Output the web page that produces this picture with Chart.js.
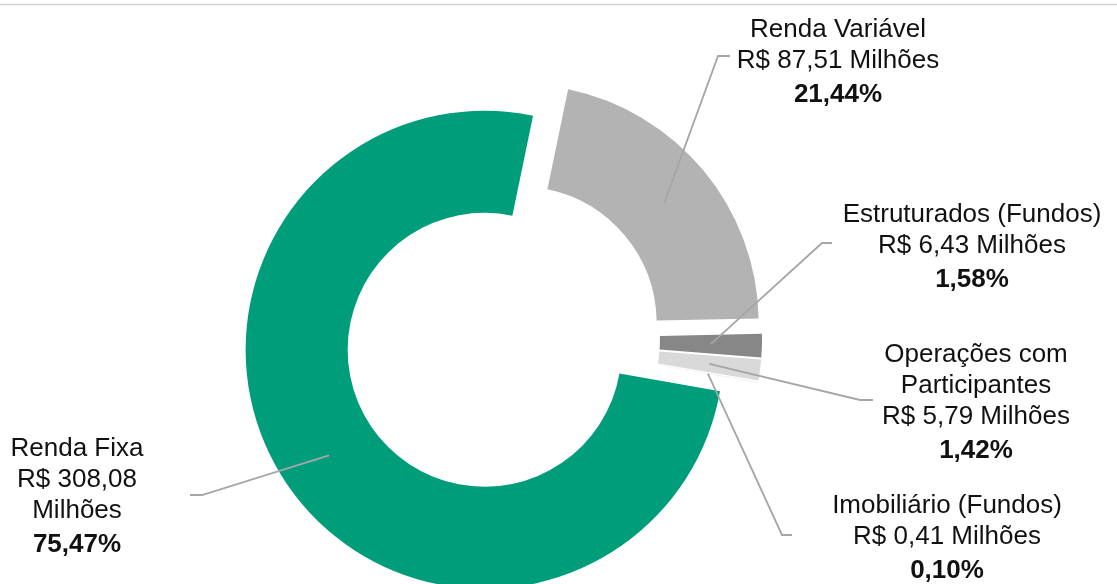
<!DOCTYPE html>
<html lang="pt-BR">
<head>
<meta charset="utf-8">
<title>Alocação por segmento</title>
<script src="https://cdn.jsdelivr.net/npm/chart.js@4.4.1/dist/chart.umd.min.js"></script>
<style>
    html, body { margin: 0; padding: 0; background: #ffffff; }
    #wrap { position: relative; width: 1117px; height: 584px; }
</style>
</head>
<body>
<div id="wrap"><canvas id="segmentoChart"></canvas></div>
<script>
// Dados do gráfico
const categorias = ['Renda Fixa', 'Renda Variável', 'Estruturados (Fundos)', 'Operações com Participantes', 'Imobiliário (Fundos)'];
const valoresMilhoes = [308.08, 87.51, 6.43, 5.79, 0.41];
const percentuais = [75.47, 21.44, 1.58, 1.42, 0.10];

// Cores das fatias
const cores = ['#009D7B', '#B3B3B3', '#878787', '#D9D9D9', '#F4F4F4'];

// Deslocamento (explosão) de cada fatia em px
const explosao = [21, 23, 21, 21, 21];

// Posição dos rótulos: x central, primeira linha de base, largura máx, cotovelo da linha guia e fim
const rotulosLayout = [
    { cx: 77,  y: 456, maxW: 150, cotovelo: [202, 495], fimX: 190 },
    { cx: 838, y: 37,  maxW: 320, cotovelo: [718, 56],  fimX: 730 },
    { cx: 972, y: 222, maxW: 320, cotovelo: [822, 243], fimX: 832 },
    { cx: 976, y: 362, maxW: 200, cotovelo: [860, 400], fimX: 873 },
    { cx: 947, y: 513, maxW: 320, cotovelo: [782, 535], fimX: 792 }
];

const fonte = '"Liberation Sans", Arial, sans-serif';
const corTexto = '#111111';
const corGuia = '#A6A6A6';

const fmt = v => v.toFixed(2).replace('.', ',');

function quebrarTexto(ctx, texto, maxW) {
    const palavras = texto.split(' ');
    const linhas = [];
    let atual = '';
    palavras.forEach(p => {
        const teste = atual ? atual + ' ' + p : p;
        if (ctx.measureText(teste).width > maxW && atual) {
            linhas.push(atual);
            atual = p;
        } else {
            atual = teste;
        }
    });
    if (atual) linhas.push(atual);
    return linhas;
}

// Linha fina no topo
const bordaTopo = {
    id: 'bordaTopo',
    beforeDraw(chart) {
        const ctx = chart.ctx;
        ctx.save();
        ctx.strokeStyle = '#D0D0D0';
        ctx.lineWidth = 1.5;
        ctx.beginPath();
        ctx.moveTo(0, 4.5);
        ctx.lineTo(chart.width, 4.5);
        ctx.stroke();
        ctx.restore();
    }
};

// Afasta cada fatia do centro ao longo do ângulo médio
const explodirFatias = {
    id: 'explodirFatias',
    beforeDatasetsDraw(chart) {
        const area = chart.chartArea;
        const cx = (area.left + area.right) / 2;
        const cy = (area.top + area.bottom) / 2;
        chart.getDatasetMeta(0).data.forEach((arc, i) => {
            const meio = (arc.startAngle + arc.endAngle) / 2;
            arc.x = cx + Math.cos(meio) * explosao[i];
            arc.y = cy + Math.sin(meio) * explosao[i];
        });
    }
};

// Rótulos com linhas guia
const rotulos = {
    id: 'rotulos',
    afterDatasetsDraw(chart) {
        const ctx = chart.ctx;
        const arcs = chart.getDatasetMeta(0).data;
        ctx.save();
        arcs.forEach((arc, i) => {
            const lay = rotulosLayout[i];
            const meio = (arc.startAngle + arc.endAngle) / 2;
            const r = (arc.innerRadius + arc.outerRadius) / 2;
            const ax = arc.x + Math.cos(meio) * r;
            const ay = arc.y + Math.sin(meio) * r;

            ctx.strokeStyle = corGuia;
            ctx.lineWidth = 1.8;
            ctx.beginPath();
            ctx.moveTo(ax, ay);
            ctx.lineTo(lay.cotovelo[0], lay.cotovelo[1]);
            ctx.lineTo(lay.fimX, lay.cotovelo[1]);
            ctx.stroke();

            ctx.fillStyle = corTexto;
            ctx.textAlign = 'center';
            ctx.textBaseline = 'alphabetic';
            ctx.font = '26px ' + fonte;
            const texto = categorias[i] + '|' + 'R$ ' + fmt(valoresMilhoes[i]) + ' Milhões';
            let linhas = [];
            texto.split('|').forEach(t => { linhas = linhas.concat(quebrarTexto(ctx, t, lay.maxW)); });
            let y = lay.y;
            linhas.forEach(l => {
                ctx.fillText(l, lay.cx, y);
                y += 31;
            });
            ctx.font = 'bold 26px ' + fonte;
            ctx.fillText(fmt(percentuais[i]) + '%', lay.cx, y + 3);
        });
        ctx.restore();
    }
};

const ctx = document.getElementById('segmentoChart').getContext('2d');
new Chart(ctx, {
    type: 'doughnut',
    data: {
        labels: categorias,
        datasets: [{
            data: valoresMilhoes,
            backgroundColor: cores,
            borderWidth: 0
        }]
    },
    options: {
        responsive: true,
        maintainAspectRatio: false,
        animation: false,
        events: [],
        rotation: 100,
        radius: 239,
        cutout: '57.3%',
        layout: {
            padding: { left: 0, right: 113, top: 92, bottom: 0 }
        },
        plugins: {
            legend: { display: false },
            tooltip: { enabled: false }
        }
    },
    plugins: [bordaTopo, explodirFatias, rotulos]
});
</script>
</body>
</html>
